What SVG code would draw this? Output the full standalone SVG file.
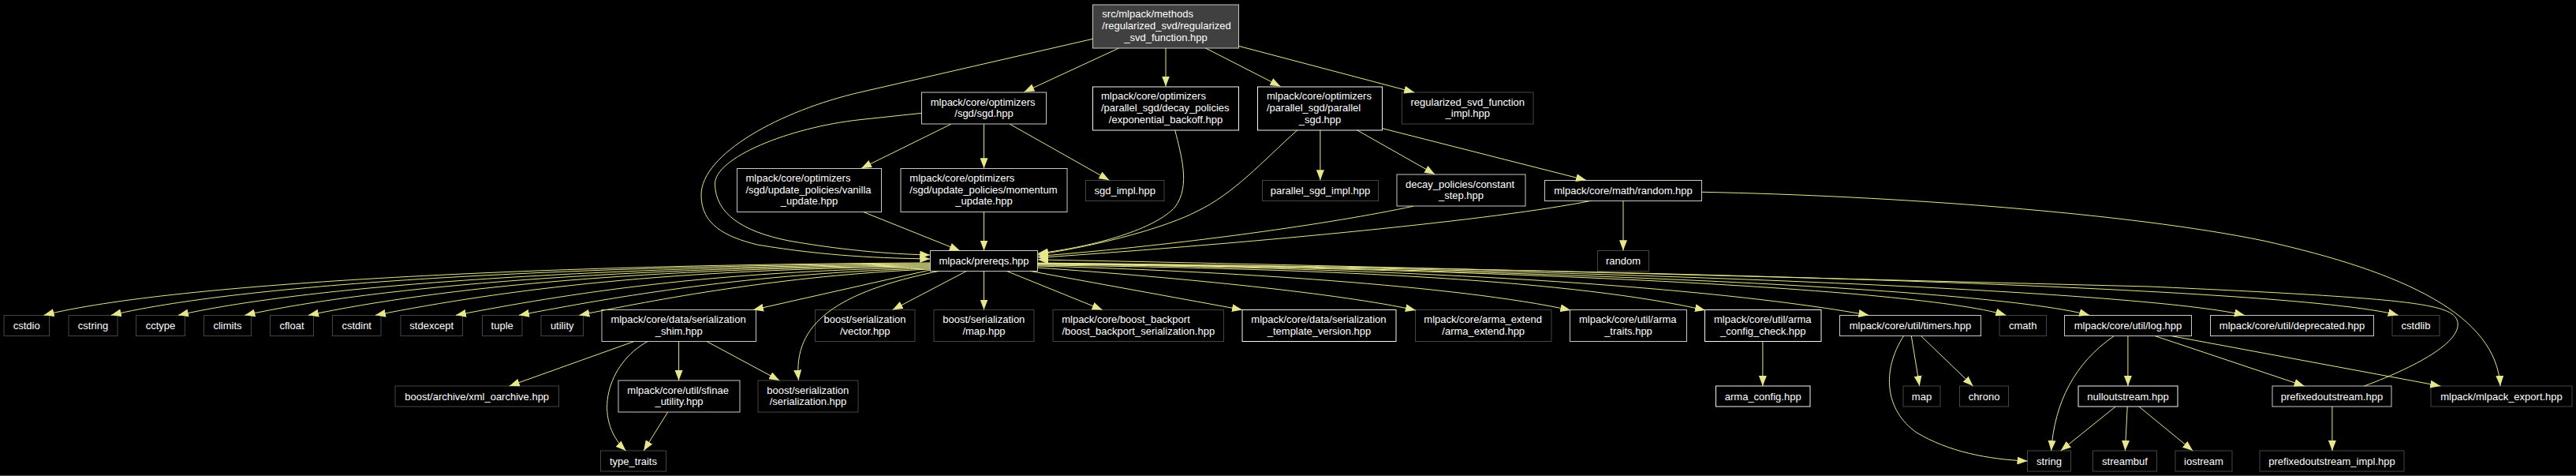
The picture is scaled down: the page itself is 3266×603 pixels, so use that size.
<svg xmlns="http://www.w3.org/2000/svg" width="3266" height="603" viewBox="0 0 3266 603">
<style>
rect.b{fill:#000;stroke:#c8c8c8;stroke-width:1}
rect.w{fill:#000;stroke:#f4f4f4;stroke-width:1}
rect.d{fill:#000;stroke:#444;stroke-width:1}
rect.r{fill:#404040;stroke:#c8c8c8;stroke-width:1}
text{font-family:"Liberation Sans",Arial,Helvetica,sans-serif;font-size:13px;fill:#fff}
.m{text-anchor:middle}
.s{text-anchor:start}
.e{fill:none;stroke:#e6e68c;stroke-width:1;marker-end:url(#ah)}
</style>
<defs>
<marker id="ah" viewBox="0 0 13 10" refX="13" refY="5" markerWidth="13" markerHeight="10" markerUnits="userSpaceOnUse" orient="auto"><path d="M0,0 L13,5 L0,10 z" fill="#e6e68c"/></marker>
</defs>
<rect x="0" y="0" width="3266" height="603" fill="#000"/>
<line x1="0" y1="602.5" x2="3266" y2="602.5" stroke="#555" stroke-width="1"/>

<g id="nodes">
<g id="n_top"><rect class="r" x="1385.5" y="6" width="185" height="55"/><text class="s" x="1397.3" y="22.3">src/mlpack/methods</text><text class="s" x="1397.3" y="37">/regularized_svd/regularized</text><text class="m" x="1478" y="51.7">_svd_function.hpp</text></g>
<g id="n_sgd"><rect class="b" x="1168.5" y="117" width="158" height="40"/><text class="s" x="1179.7" y="133.5">mlpack/core/optimizers</text><text class="m" x="1247.5" y="148">/sgd/sgd.hpp</text></g>
<g id="n_expo"><rect class="w" x="1385.5" y="110" width="185" height="55"/><text class="s" x="1396" y="126.3">mlpack/core/optimizers</text><text class="s" x="1396" y="141">/parallel_sgd/decay_policies</text><text class="m" x="1478" y="155.7">/exponential_backoff.hpp</text></g>
<g id="n_psgd"><rect class="w" x="1594.5" y="110" width="158" height="55"/><text class="s" x="1606" y="126.3">mlpack/core/optimizers</text><text class="s" x="1606" y="141">/parallel_sgd/parallel</text><text class="m" x="1673.5" y="155.7">_sgd.hpp</text></g>
<g id="n_rsvdimpl"><rect class="d" x="1777.5" y="117" width="166.5" height="40"/><text class="s" x="1788.5" y="133.5">regularized_svd_function</text><text class="m" x="1860.8" y="148">_impl.hpp</text></g>
<g id="n_vanilla"><rect class="b" x="934.5" y="213.5" width="183" height="55"/><text class="s" x="945.5" y="229.8">mlpack/core/optimizers</text><text class="s" x="945.5" y="244.5">/sgd/update_policies/vanilla</text><text class="m" x="1026" y="259.2">_update.hpp</text></g>
<g id="n_momentum"><rect class="b" x="1142" y="213.5" width="211" height="55"/><text class="s" x="1153.3" y="229.8">mlpack/core/optimizers</text><text class="s" x="1153.3" y="244.5">/sgd/update_policies/momentum</text><text class="m" x="1247.5" y="259.2">_update.hpp</text></g>
<g id="n_sgdimpl"><rect class="d" x="1376.5" y="228.5" width="99.5" height="26"/><text class="m" x="1426.2" y="246">sgd_impl.hpp</text></g>
<g id="n_psgdimpl"><rect class="d" x="1600.5" y="228.5" width="147" height="26"/><text class="m" x="1674" y="246">parallel_sgd_impl.hpp</text></g>
<g id="n_const"><rect class="b" x="1771" y="221" width="163" height="40"/><text class="s" x="1782" y="237.5">decay_policies/constant</text><text class="m" x="1852.5" y="252">_step.hpp</text></g>
<g id="n_randhpp"><rect class="b" x="1958.5" y="228.5" width="199" height="26"/><text class="m" x="2058" y="246">mlpack/core/math/random.hpp</text></g>
<g id="n_random"><rect class="d" x="2025.5" y="317.5" width="65" height="26"/><text class="m" x="2058" y="335">random</text></g>
<g id="n_prereqs"><rect class="b" x="1179.5" y="317.5" width="136" height="26"/><text class="m" x="1247.5" y="335">mlpack/prereqs.hpp</text></g>

<g id="n_cstdio"><rect class="d" x="5" y="399.5" width="57.5" height="26"/><text class="m" x="33.7" y="417">cstdio</text></g>
<g id="n_cstring"><rect class="d" x="87" y="399.5" width="62" height="26"/><text class="m" x="118" y="417">cstring</text></g>
<g id="n_cctype"><rect class="d" x="172.5" y="399.5" width="62" height="26"/><text class="m" x="203.5" y="417">cctype</text></g>
<g id="n_climits"><rect class="d" x="258.5" y="399.5" width="60" height="26"/><text class="m" x="288.5" y="417">climits</text></g>
<g id="n_cfloat"><rect class="d" x="342.5" y="399.5" width="55" height="26"/><text class="m" x="370" y="417">cfloat</text></g>
<g id="n_cstdint"><rect class="d" x="421.5" y="399.5" width="61.5" height="26"/><text class="m" x="452.2" y="417">cstdint</text></g>
<g id="n_stdexcept"><rect class="d" x="508" y="399.5" width="78.5" height="26"/><text class="m" x="547.2" y="417">stdexcept</text></g>
<g id="n_tuple"><rect class="d" x="611.5" y="399.5" width="50.5" height="26"/><text class="m" x="636.7" y="417">tuple</text></g>
<g id="n_utility"><rect class="d" x="686" y="399.5" width="53.5" height="26"/><text class="m" x="712.7" y="417">utility</text></g>
<g id="n_shim"><rect class="b" x="763" y="392.5" width="195.5" height="40"/><text class="s" x="774.4" y="409">mlpack/core/data/serialization</text><text class="m" x="860.7" y="423.5">_shim.hpp</text></g>
<g id="n_vector"><rect class="d" x="1033.5" y="392.5" width="126.5" height="40"/><text class="s" x="1044.5" y="409">boost/serialization</text><text class="m" x="1096.8" y="423.5">/vector.hpp</text></g>
<g id="n_maphpp"><rect class="d" x="1184" y="392.5" width="127" height="40"/><text class="s" x="1195.3" y="409">boost/serialization</text><text class="m" x="1247.5" y="423.5">/map.hpp</text></g>
<g id="n_backport"><rect class="d" x="1335" y="392.5" width="216.5" height="40"/><text class="s" x="1346.2" y="409">mlpack/core/boost_backport</text><text class="m" x="1443.3" y="423.5">/boost_backport_serialization.hpp</text></g>
<g id="n_tmplver"><rect class="w" x="1575" y="392.5" width="195" height="40"/><text class="s" x="1586.3" y="409">mlpack/core/data/serialization</text><text class="m" x="1672.5" y="423.5">_template_version.hpp</text></g>
<g id="n_armaext"><rect class="d" x="1794.5" y="392.5" width="172.5" height="40"/><text class="s" x="1805.3" y="409">mlpack/core/arma_extend</text><text class="m" x="1880.7" y="423.5">/arma_extend.hpp</text></g>
<g id="n_armatraits"><rect class="b" x="1990.5" y="392.5" width="148" height="40"/><text class="s" x="2002" y="409">mlpack/core/util/arma</text><text class="m" x="2064.5" y="423.5">_traits.hpp</text></g>
<g id="n_armacc"><rect class="w" x="2161.5" y="392.5" width="147.5" height="40"/><text class="s" x="2173" y="409">mlpack/core/util/arma</text><text class="m" x="2235.3" y="423.5">_config_check.hpp</text></g>
<g id="n_timers"><rect class="b" x="2332.5" y="399.5" width="179" height="26"/><text class="m" x="2422" y="417">mlpack/core/util/timers.hpp</text></g>
<g id="n_cmath"><rect class="d" x="2535" y="399.5" width="59.5" height="26"/><text class="m" x="2564.7" y="417">cmath</text></g>
<g id="n_log"><rect class="b" x="2617.5" y="399.5" width="161" height="26"/><text class="m" x="2698" y="417">mlpack/core/util/log.hpp</text></g>
<g id="n_deprecated"><rect class="b" x="2802.5" y="399.5" width="207" height="26"/><text class="m" x="2906" y="417">mlpack/core/util/deprecated.hpp</text></g>
<g id="n_cstdlib"><rect class="d" x="3033" y="399.5" width="60" height="26"/><text class="m" x="3063" y="417">cstdlib</text></g>

<g id="n_xml"><rect class="d" x="501" y="489" width="207.5" height="26"/><text class="m" x="604.7" y="506.5">boost/archive/xml_oarchive.hpp</text></g>
<g id="n_sfinae"><rect class="b" x="784" y="482" width="154" height="40"/><text class="s" x="795.3" y="498.5">mlpack/core/util/sfinae</text><text class="m" x="861" y="513">_utility.hpp</text></g>
<g id="n_serial"><rect class="d" x="961" y="482" width="127" height="40"/><text class="s" x="972.2" y="498.5">boost/serialization</text><text class="m" x="1024.5" y="513">/serialization.hpp</text></g>
<g id="n_armaconfig"><rect class="w" x="2175.5" y="489" width="119.5" height="26"/><text class="m" x="2235.2" y="506.5">arma_config.hpp</text></g>
<g id="n_map"><rect class="d" x="2413" y="489" width="47" height="26"/><text class="m" x="2436.5" y="506.5">map</text></g>
<g id="n_chrono"><rect class="d" x="2484.5" y="489" width="62" height="26"/><text class="m" x="2515.5" y="506.5">chrono</text></g>
<g id="n_nullout"><rect class="w" x="2635" y="489" width="126" height="26"/><text class="m" x="2698" y="506.5">nulloutstream.hpp</text></g>
<g id="n_prefixed"><rect class="b" x="2881" y="489" width="151" height="26"/><text class="m" x="2956.5" y="506.5">prefixedoutstream.hpp</text></g>
<g id="n_export"><rect class="d" x="3082" y="489" width="179" height="26"/><text class="m" x="3171.5" y="506.5">mlpack/mlpack_export.hpp</text></g>

<g id="n_typetraits"><rect class="d" x="761.5" y="571" width="83" height="26"/><text class="m" x="803" y="588.5">type_traits</text></g>
<g id="n_string"><rect class="d" x="2570.5" y="571" width="55" height="26"/><text class="m" x="2598" y="588.5">string</text></g>
<g id="n_streambuf"><rect class="d" x="2653.5" y="571" width="81" height="26"/><text class="m" x="2694" y="588.5">streambuf</text></g>
<g id="n_iostream"><rect class="d" x="2758" y="571" width="72" height="26"/><text class="m" x="2794" y="588.5">iostream</text></g>
<g id="n_prefimpl"><rect class="d" x="2865" y="571" width="183" height="26"/><text class="m" x="2956.5" y="588.5">prefixedoutstream_impl.hpp</text></g>
</g>

<g id="edges">
<path class="e" d="M1418.5,61 L1298.5,116.5"/>
<path class="e" d="M1478,61 L1478,109.5"/>
<path class="e" d="M1528.6,61 L1623.5,109.5"/>
<path class="e" d="M1570.4,58.3 L1793.2,117"/>
<path class="e" d="M1385.4,49.3 L1090,117 C990,140 889,195 889,247 C889,285 920,300 960,310 C1050,325 1120,327 1179.3,328"/>
<path class="e" d="M1168.6,143.3 L1090,151.7 C1000,161.5 906,200 906.5,233 C907,270 940,293 1000,305 C1080,319 1140,322 1179.3,323"/>
<path class="e" d="M1205.7,157.3 L1092,213.3"/>
<path class="e" d="M1247.5,157.3 L1247.5,213.3"/>
<path class="e" d="M1280.5,157.3 L1406.3,228.3"/>
<path class="e" d="M1489.7,164.7 C1497,195 1510,235 1490,262 C1465,290 1390,312 1316,321"/>
<path class="e" d="M1645,164.7 C1600,205 1565,245 1517,268 C1480,287 1400,310 1316,322.5"/>
<path class="e" d="M1673.9,164.7 L1673.9,228.3"/>
<path class="e" d="M1720.2,164.7 L1819.2,220.7"/>
<path class="e" d="M1752.8,162.7 L2011.1,228.3"/>
<path class="e" d="M1791.4,261.3 C1690,283 1500,310 1316,324.5"/>
<path class="e" d="M2017.3,254.3 C1900,278 1600,307 1316,326.5"/>
<path class="e" d="M2058,254.3 L2058,317.3"/>
<path class="e" d="M2157.4,243.3 C2400,248 2700,270 2870,305 C3050,345 3165,400 3170,489"/>
<path class="e" d="M1179.3,333 C700,335 220,358 55.6,399.3"/>
<path class="e" d="M1179.3,334 C750,336 320,357 140.8,399.3"/>
<path class="e" d="M1179.3,335 C780,337 400,360 226,399.3"/>
<path class="e" d="M1179.3,336 C800,338 480,362 310.4,399.3"/>
<path class="e" d="M1179.3,337 C820,339 560,364 391,399.3"/>
<path class="e" d="M1179.3,338 C850,340 640,367 476,399.3"/>
<path class="e" d="M1179.3,339 C900,343 720,372 578,399.3"/>
<path class="e" d="M1179.3,340 C950,346 780,376 658,399.3"/>
<path class="e" d="M1179.3,341 C990,349 830,380 734.4,399.3"/>
<path class="e" d="M1179.3,342 L955,392.5"/>
<path class="e" d="M1190.8,343.3 C1060,370 1005,410 1012.5,481.7"/>
<path class="e" d="M1225.6,343.3 L1131.7,392.5"/>
<path class="e" d="M1247.5,343.3 L1247.5,392.5"/>
<path class="e" d="M1276,343.3 L1397.6,392.5"/>
<path class="e" d="M1305.5,343.3 L1575,392.5"/>
<path class="e" d="M1315.2,339 C1500,352 1700,372 1794.9,393"/>
<path class="e" d="M1315.2,337 C1550,343 1850,362 1991.3,393"/>
<path class="e" d="M1315.2,336 C1700,340 2000,356 2162,393"/>
<path class="e" d="M1315.2,335 C1750,338 2150,360 2369.4,399.3"/>
<path class="e" d="M1315.2,334.5 C1800,338 2420,362 2543.2,399.3"/>
<path class="e" d="M1315.2,334 C1800,338 2500,360 2649.2,399.3"/>
<path class="e" d="M1315.2,333.5 C1900,338 2700,365 2845.8,399.3"/>
<path class="e" d="M1315.2,333 C2000,340 2900,362 3040.7,399.3"/>
<path class="e" d="M2997.6,489 C3070,462 3125,430 3115,405 C3105,385 3060,378 2725,363 C2200,350 1700,336 1316,329"/>
<path class="e" d="M804,432.5 L645.8,489"/>
<path class="e" d="M821.3,432.5 C770,460 750,530 793.5,571"/>
<path class="e" d="M860.6,432.5 L860.6,482"/>
<path class="e" d="M896,432.5 L988.2,482"/>
<path class="e" d="M846.7,522 L816.1,571"/>
<path class="e" d="M2234.9,432.5 L2234.9,489"/>
<path class="e" d="M2423.3,425.5 L2433.7,489"/>
<path class="e" d="M2435.5,425.5 L2501.5,489"/>
<path class="e" d="M2413.6,425.5 C2385,470 2390,520 2430,548 C2470,572 2520,582 2570.5,584"/>
<path class="e" d="M2680.5,425.5 C2630,460 2605,510 2600.6,571"/>
<path class="e" d="M2697.9,425.5 L2697.9,489"/>
<path class="e" d="M2682.3,515 L2612.7,571"/>
<path class="e" d="M2697.2,515 L2694.4,571"/>
<path class="e" d="M2711.8,515 L2780.2,571"/>
<path class="e" d="M2732,425.5 L2921.7,489"/>
<path class="e" d="M2752.6,425.5 L3094.2,489"/>
<path class="e" d="M2956.9,515 L2956.9,571"/>
<path class="e" d="M1095,268.7 L1216.9,317.5"/>
<path class="e" d="M1247.5,268.7 L1247.5,317.5"/>
</g>
</svg>
